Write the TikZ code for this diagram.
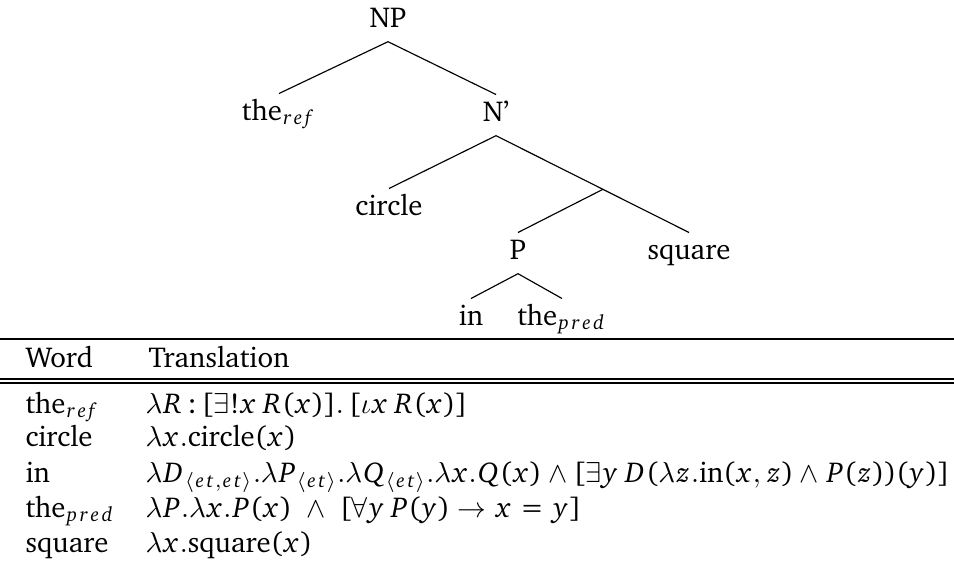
\documentclass[tikz,border=0pt]{standalone}
\usepackage[T1]{fontenc}
\usepackage{charter}
\usetikzlibrary{calc}
\DeclareSymbolFont{operators}{T1}{bch}{m}{n}
\DeclareSymbolFont{chit}{T1}{bch}{m}{it}
\makeatletter
\def\mylettersetup{%
  \begingroup\lccode`\~=\count@
  \lowercase{\endgroup\edef~{\mkern1mu\mathchar\the\numexpr"7000+\symchit*"100+\count@\relax\mkern1mu}}%
  \mathcode\count@="8000 }
\count@=`a
\loop
  \mylettersetup
  \advance\count@ 1
\ifnum\count@<123 \repeat
\count@=`A
\loop
  \mylettersetup
  \advance\count@ 1
\ifnum\count@<91 \repeat
\makeatother
\tikzset{
  treelabel/.style={anchor=base, inner sep=2pt, text height=7pt, text depth=2.9pt, font=\normalsize},
  cellw/.style={anchor=base west, inner sep=0pt},
  branch/.style={line width=0.4pt},
  rule/.style={line width=0.4pt}
}
\begin{document}
\begin{tikzpicture}[x=0.3472pt, y=-0.3472pt]
\useasboundingbox (0,0) rectangle (954,576);
% tree
\node[treelabel] (NP) at (388,27) {NP};
\node[treelabel] (theref) at (279,120) {the$_{ref}$};
\node[treelabel] (Nbar) at (496,121) {N'};
\node[treelabel] (circle) at (389,215) {circle};
\node[treelabel] (P) at (518,259) {P};
\node[treelabel] (square) at (689,259) {square};
\node[treelabel] (in) at (471,325) {in};
\node[treelabel] (thepred) at (562,325) {the$_{pred}$};
\coordinate (bar) at ($(Nbar.south)!0.554!(square.north)$);
\draw[branch] (theref.north) -- (NP.south) -- (Nbar.north);
\draw[branch] (circle.north) -- (Nbar.south) -- (square.north);
\draw[branch] (bar) -- (P.north);
\draw[branch] (in.north) -- (P.south) -- (thepred.north);
% table rules
\coordinate (tl) at (0,339);
\coordinate (tr) at (954,339);
\coordinate (dl1) at (0,379);
\coordinate (dr1) at (954,379);
\coordinate (dl2) at (0,383);
\coordinate (dr2) at (954,383);
\draw[rule] (tl) -- (tr);
\draw[rule] (dl1) -- (dr1);
\draw[rule] (dl2) -- (dr2);
% header
\node[cellw] (hw) at (25,367) {Word};
\node[cellw] (ht) at (148,367) {Translation};
% rows
\node[cellw] (w1) at (25,413) {the$_{ref}$};
\node[cellw] (t1) at (145,413) {$\lambda R\,{:}\,[\exists!x\,R(x)].\,[\iota x\,R(x)]$};
\node[cellw] (w2) at (25,446) {circle};
\node[cellw] (t2) at (145,446) {$\lambda x.\textnormal{circle}(x)$};
\node[cellw] (w3) at (25,482) {in};
\node[cellw] (t3) at (145,482) {$\lambda D_{\langle et,et\rangle}.\lambda P_{\langle et\rangle}.\lambda Q_{\langle et\rangle}.\lambda x.Q(x)\wedge[\exists y\,D(\lambda z.\textnormal{in}(x,z)\wedge P(z))(y)]$};
\node[cellw] (w4) at (25,517) {the$_{pred}$};
\node[cellw] (t4) at (145,517) {$\lambda P.\lambda x.P(x)\ \wedge\ [\forall y\,P(y)\rightarrow x=y]$};
\node[cellw] (w5) at (25,552) {square};
\node[cellw] (t5) at (145,552) {$\lambda x.\textnormal{square}(x)$};
\end{tikzpicture}
\end{document}
